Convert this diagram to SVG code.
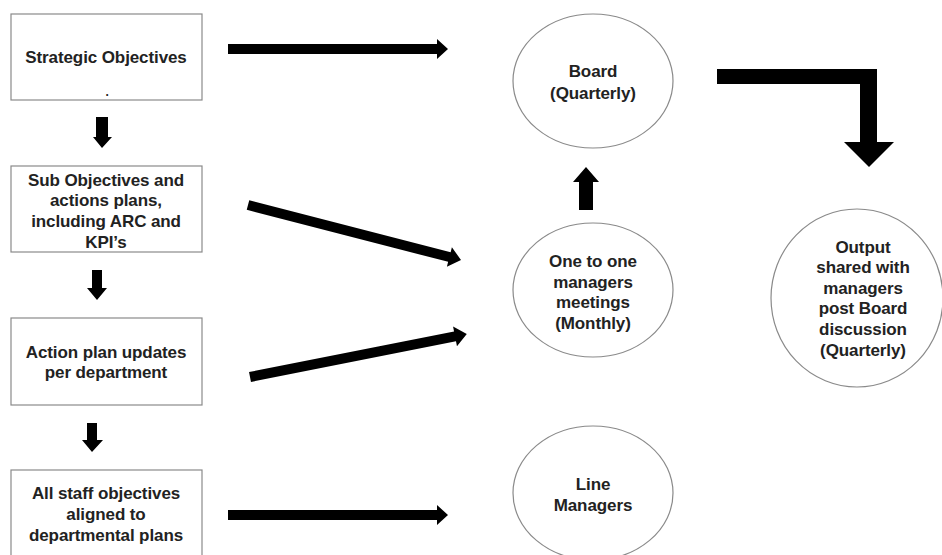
<svg xmlns="http://www.w3.org/2000/svg" width="942" height="555" viewBox="0 0 942 555">
<style>
.box{fill:#fff;stroke:#8a8a8a;stroke-width:1.2}
.ell{fill:#fff;stroke:#8a8a8a;stroke-width:1.2}
.t{font-family:"Liberation Sans",Arial,sans-serif;font-weight:bold;font-size:17px;fill:#222;text-anchor:middle;letter-spacing:-0.1px}
.arr{fill:#000}
</style>
<rect width="942" height="555" fill="#fff"/>
<g id="strategic">
<rect class="box" x="11" y="14" width="191" height="86"/>
<text class="t" x="106" y="63">Strategic Objectives</text>
<text class="t" x="107" y="96" style="font-size:12px">.</text>
</g>
<g id="subobjectives">
<rect class="box" x="11" y="166" width="191" height="86"/>
<text class="t" x="106" y="186">Sub Objectives and</text>
<text class="t" x="106" y="206">actions plans,</text>
<text class="t" x="106" y="227">including ARC and</text>
<text class="t" x="106" y="248">KPI’s</text>
</g>
<g id="actionplan">
<rect class="box" x="11" y="318" width="191" height="87"/>
<text class="t" x="106" y="358">Action plan updates</text>
<text class="t" x="106" y="378">per department</text>
</g>
<g id="allstaff">
<rect class="box" x="11" y="470" width="191" height="100"/>
<text class="t" x="106" y="499">All staff objectives</text>
<text class="t" x="106" y="520">aligned to</text>
<text class="t" x="106" y="541">departmental plans</text>
</g>
<g id="board">
<ellipse class="ell" cx="593" cy="81" rx="80" ry="67"/>
<text class="t" x="593" y="77">Board</text>
<text class="t" x="593" y="99">(Quarterly)</text>
</g>
<g id="onetoone">
<ellipse class="ell" cx="593" cy="290" rx="80" ry="67"/>
<text class="t" x="593" y="267">One to one</text>
<text class="t" x="593" y="288">managers</text>
<text class="t" x="593" y="308">meetings</text>
<text class="t" x="593" y="329">(Monthly)</text>
</g>
<g id="output">
<ellipse class="ell" cx="857" cy="298" rx="86" ry="89"/>
<text class="t" x="863" y="253">Output</text>
<text class="t" x="863" y="273">shared with</text>
<text class="t" x="863" y="294">managers</text>
<text class="t" x="863" y="314">post Board</text>
<text class="t" x="863" y="335">discussion</text>
<text class="t" x="863" y="356">(Quarterly)</text>
</g>
<g id="linemanagers">
<ellipse class="ell" cx="593" cy="493" rx="80" ry="67"/>
<text class="t" x="593" y="490">Line</text>
<text class="t" x="593" y="511">Managers</text>
</g>
<g id="connectors">
<polygon class="arr" points="228,44 437,44 437,39 448,49 437,59 437,54 228,54"/>
<polygon class="arr" points="228,510 437,510 437,505 448,515 437,525 437,520 228,520"/>
<g transform="translate(248,205) rotate(14.48)">
<polygon class="arr" points="0,-5 208,-5 208,-10 220,0 208,10 208,5 0,5"/>
</g>
<g transform="translate(250,377) rotate(-11.2)">
<polygon class="arr" points="0,-5 209,-5 209,-10 221,0 209,10 209,5 0,5"/>
</g>
<polygon class="arr" points="96,117 108,117 108,137 112,137 102,148 93,137 96,137"/>
<polygon class="arr" points="92,270 102,270 102,288 107,288 97,300 87,288 92,288"/>
<polygon class="arr" points="87,423 97,423 97,440 103,440 92,452 82,440 87,440"/>
<polygon class="arr" points="579,210 593,210 593,182 599,182 586,167 573,182 579,182"/>
<polygon class="arr" points="717,69 877,69 877,142 894,142 869,167 844,142 860,142 860,84 717,84"/>
</g>
</svg>
